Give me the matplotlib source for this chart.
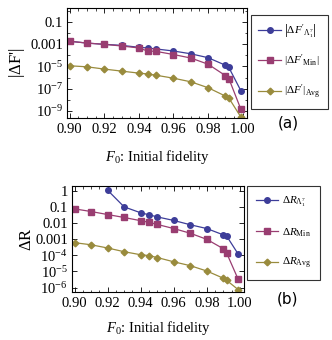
import matplotlib
matplotlib.use("Agg")
import matplotlib.pyplot as plt
import numpy as np

plt.rcParams['font.family'] = ['Liberation Serif', 'DejaVu Serif']
plt.rcParams['mathtext.fontset'] = 'custom'
plt.rcParams['mathtext.rm'] = 'Liberation Serif'
plt.rcParams['mathtext.it'] = 'Liberation Serif:italic'
plt.rcParams['mathtext.bf'] = 'Liberation Serif:bold'

# initial fidelity values
F0 = [0.90, 0.91, 0.92, 0.93, 0.94, 0.945, 0.95, 0.96, 0.97, 0.98, 0.99, 0.992, 0.999]

# (a) |dF'|
dF_lam = [1.9e-3, 1.3e-3, 1.0e-3, 8.1e-4, 5.4e-4, 4.7e-4, 3.8e-4, 2.5e-4, 1.4e-4, 6.2e-5, 1.3e-5, 8.1e-6, 6.2e-8]
dF_min = [1.9e-3, 1.3e-3, 1.0e-3, 7.1e-4, 4.7e-4, 2.5e-4, 2.3e-4, 1.2e-4, 5.8e-5, 1.6e-5, 1.5e-6, 8.1e-7, 1.3e-9]
dF_avg = [1.15e-5, 9.3e-6, 5.8e-6, 3.8e-6, 2.5e-6, 2.1e-6, 1.6e-6, 8.7e-7, 4.1e-7, 1.2e-7, 2.1e-8, 1.4e-8, 2.6e-10]

# (b) dR (lambda curve starts at 0.92)
F0_lam = F0[2:]
dR_lam = [1.15, 0.105, 0.045, 0.034, 0.025, 0.015, 0.0081, 0.0047, 0.0019, 0.0016, 1.2e-4]
dR_min = [0.079, 0.054, 0.035, 0.023, 0.0145, 0.0115, 0.0085, 0.0047, 0.0024, 0.001, 2.6e-4, 1.4e-4, 3.2e-6]
dR_avg = [6.2e-4, 4.6e-4, 2.9e-4, 1.7e-4, 1.1e-4, 9.8e-5, 7.4e-5, 4.0e-5, 2.3e-5, 1.07e-5, 3.8e-6, 2.8e-6, 7.4e-7]

c_blue = '#3d3d99'
c_mag = '#993d71'
c_olive = '#998b3d'

fig = plt.figure(figsize=(3.32, 3.40), dpi=100)
ax1 = fig.add_axes([0.202, 0.653, 0.542, 0.324])
ax2 = fig.add_axes([0.217, 0.142, 0.518, 0.310])

kw = dict(lw=0.9, ms=4)
dkw = dict(lw=0.9, ms=3.4)
l1, = ax1.plot(F0, dF_lam, '-o', color=c_blue, **kw)
l2, = ax1.plot(F0, dF_min, '-s', color=c_mag, **kw)
l3, = ax1.plot(F0, dF_avg, '-D', color=c_olive, **dkw)

m1, = ax2.plot(F0_lam, dR_lam, '-o', color=c_blue, **kw)
m2, = ax2.plot(F0, dR_min, '-s', color=c_mag, **kw)
m3, = ax2.plot(F0, dR_avg, '-D', color=c_olive, **dkw)

for ax in (ax1, ax2):
    ax.set_yscale('log')
    ax.set_xlim(0.8985, 1.0025)
    ax.set_xticks([0.90, 0.92, 0.94, 0.96, 0.98, 1.00])
    ax.set_xticklabels(['0.90', '0.92', '0.94', '0.96', '0.98', '1.00'])
    ax.xaxis.set_minor_locator(matplotlib.ticker.MultipleLocator(0.005))
    ax.tick_params(which='both', direction='in', top=True, right=True, labelsize=10.5, pad=3)
    ax.tick_params(which='major', length=3.5, width=0.6)
    ax.tick_params(which='minor', length=1.8, width=0.5)
    ax.tick_params(axis='x', which='major', pad=3.5)
    for s in ax.spines.values():
        s.set_linewidth(0.8)

ax1.set_xlabel('$F_0$: Initial fidelity', fontsize=10.5, labelpad=9)
ax2.set_xlabel('$F_0$: Initial fidelity', fontsize=10.5, labelpad=7)

ax1.set_ylim(2.2e-10, 2.0)
ax1.set_yticks([0.1, 1e-3, 1e-5, 1e-7, 1e-9])
ax1.set_yticklabels(['0.1', '0.001', '$10^{-5}$', '$10^{-7}$', '$10^{-9}$'])
ax1.yaxis.set_minor_locator(matplotlib.ticker.FixedLocator([1, 1e-2, 1e-4, 1e-6, 1e-8, 1e-10]))
ax1.yaxis.set_minor_formatter(matplotlib.ticker.NullFormatter())
ax1.set_ylabel("$|\\Delta$F'$|$", fontsize=12, labelpad=2)

ax2.set_ylim(5.5e-7, 2.0)
ax2.set_yticks([1, 0.1, 0.01, 1e-3, 1e-4, 1e-5, 1e-6])
ax2.set_yticklabels(['1', '0.1', '0.01', '0.001', '$10^{-4}$', '$10^{-5}$', '$10^{-6}$'])
ax2.yaxis.set_minor_locator(matplotlib.ticker.NullLocator())
ax2.set_ylabel('$\\Delta$R', fontsize=12, labelpad=0)

leg1 = fig.legend([l1, l2, l3],
                  ["$\\left|\\Delta F'_{\\Lambda_1^7}\\right|$", "$|\\Delta F'_{\\rm Min}|$", "$|\\Delta F'|_{\\rm Avg}$"],
                  loc='upper left', bbox_to_anchor=(0.755, 0.957), fontsize=8,
                  frameon=True, fancybox=False, edgecolor='black', handlelength=2.0,
                  labelspacing=1.2, borderpad=0.7, handletextpad=0.3, borderaxespad=0)
leg1.get_frame().set_linewidth(0.8)
leg2 = fig.legend([m1, m2, m3],
                  ["$\\Delta R_{\\Lambda_1^7}$", "$\\Delta R_{\\rm Min}$", "$\\Delta R_{\\rm Avg}$"],
                  loc='upper left', bbox_to_anchor=(0.745, 0.453), fontsize=8,
                  frameon=True, fancybox=False, edgecolor='black', handlelength=2.0,
                  labelspacing=1.55, borderpad=0.8, handletextpad=0.3, borderaxespad=0)
leg2.get_frame().set_linewidth(0.8)

fig.text(0.868, 0.639, '(a)', ha='center', va='center', fontsize=11, family='DejaVu Sans')
fig.text(0.866, 0.121, '(b)', ha='center', va='center', fontsize=11, family='DejaVu Sans')

fig.savefig('out.png', dpi=100)
